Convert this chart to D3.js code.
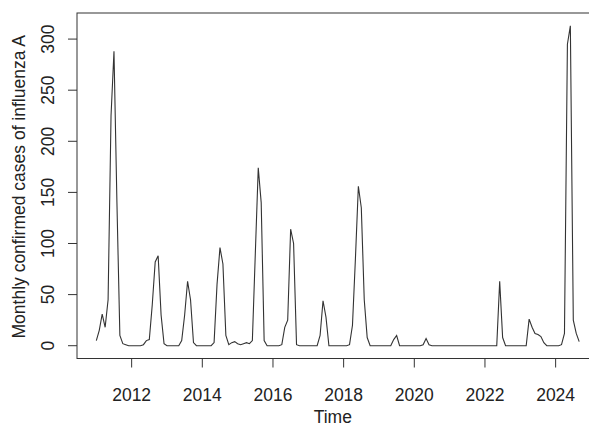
<!DOCTYPE html>
<html>
<head>
<meta charset="utf-8">
<script src="https://cdn.jsdelivr.net/npm/d3@7"></script>
<style>
  body { margin: 0; background: #fff; }
  svg { display: block; }
  text { font-family: "Liberation Sans", Arial, sans-serif; fill: #222; }
  .frame, .tick-line { stroke: #333; stroke-width: 1; fill: none; }
  .series { stroke: #333; stroke-width: 1.1; fill: none; }
</style>
</head>
<body>
<svg></svg>
<script>
//begin: data
var startYear = 2011;   // monthly series, first point = Jan 2011
var monthsPerYear = 12;
var cases = [
  // 2011
  5, 15, 31, 18, 45, 225, 288, 140, 10, 2, 1, 0,
  // 2012
  0, 0, 0, 0, 1, 5, 6, 40, 82, 88, 30, 2,
  // 2013
  0, 0, 0, 0, 0, 5, 30, 63, 45, 3, 0, 0,
  // 2014
  0, 0, 0, 0, 3, 60, 96, 80, 10, 1, 3, 4,
  // 2015
  2, 1, 2, 3, 2, 5, 90, 174, 140, 5, 0, 0,
  // 2016
  0, 0, 0, 1, 18, 25, 114, 100, 1, 0, 0, 0,
  // 2017
  0, 0, 0, 0, 10, 44, 28, 0, 0, 0, 0, 0,
  // 2018
  0, 0, 1, 20, 85, 156, 135, 45, 8, 0, 0, 0,
  // 2019
  0, 0, 0, 0, 0, 6, 10, 0, 0, 0, 0, 0,
  // 2020
  0, 0, 0, 1, 7, 1, 0, 0, 0, 0, 0, 0,
  // 2021
  0, 0, 0, 0, 0, 0, 0, 0, 0, 0, 0, 0,
  // 2022
  0, 0, 0, 0, 0, 63, 8, 0, 0, 0, 0, 0,
  // 2023
  0, 0, 0, 26, 18, 12, 11, 9, 3, 0, 0, 0,
  // 2024 (Jan - Sep)
  0, 0, 1, 12, 295, 313, 25, 12, 4
];
var xTicks = [2012, 2014, 2016, 2018, 2020, 2022, 2024];
var yTicks = [0, 50, 100, 150, 200, 250, 300];
var xLabel = "Time";
var yLabel = "Monthly confirmed cases of influenza A";
//end: data

//begin: layout conf.
var svgWidth = 589,
    svgHeight = 426,
    plot = {left: 77, right: 598.5, top: 13, bottom: 358.5},
    tickLength = 9,
    fontSize = 17.5;
//end: layout conf.

var points = cases.map(function(v, i) {
  return {t: startYear + i / monthsPerYear, v: v};
});

// R style axis range: data extent padded by 4% each side
function pad(ext) {
  var d = (ext[1] - ext[0]) * 0.04;
  return [ext[0] - d, ext[1] + d];
}

var x = d3.scaleLinear()
    .domain(pad(d3.extent(points, function(d) { return d.t; })))
    .range([plot.left, plot.right]);

var y = d3.scaleLinear()
    .domain(pad(d3.extent(points, function(d) { return d.v; })))
    .range([plot.bottom, plot.top]);

var svg = d3.select("svg")
    .attr("width", svgWidth)
    .attr("height", svgHeight);

// series line
var line = d3.line()
    .x(function(d) { return x(d.t); })
    .y(function(d) { return y(d.v); });

svg.append("path")
    .datum(points)
    .classed("series", true)
    .attr("d", line);

// plot frame
svg.append("rect")
    .classed("frame", true)
    .attr("x", plot.left)
    .attr("y", plot.top)
    .attr("width", plot.right - plot.left)
    .attr("height", plot.bottom - plot.top);

// x axis
var xAxis = svg.append("g").classed("x-axis", true);
xAxis.selectAll(".tick-line")
    .data(xTicks)
    .enter().append("line")
    .classed("tick-line", true)
    .attr("x1", function(d) { return x(d); })
    .attr("x2", function(d) { return x(d); })
    .attr("y1", plot.bottom)
    .attr("y2", plot.bottom + tickLength);
xAxis.selectAll(".tick-label")
    .data(xTicks)
    .enter().append("text")
    .classed("tick-label", true)
    .attr("x", function(d) { return x(d); })
    .attr("y", 401)
    .attr("text-anchor", "middle")
    .style("font-size", fontSize + "px")
    .text(function(d) { return d; });

// y axis
var yAxis = svg.append("g").classed("y-axis", true);
yAxis.selectAll(".tick-line")
    .data(yTicks)
    .enter().append("line")
    .classed("tick-line", true)
    .attr("x1", plot.left - tickLength)
    .attr("x2", plot.left)
    .attr("y1", function(d) { return y(d); })
    .attr("y2", function(d) { return y(d); });
yAxis.selectAll(".tick-label")
    .data(yTicks)
    .enter().append("text")
    .classed("tick-label", true)
    .attr("transform", function(d) { return "translate(" + [54, y(d)] + ") rotate(-90)"; })
    .attr("text-anchor", "middle")
    .style("font-size", fontSize + "px")
    .text(function(d) { return d; });

// axis titles
svg.append("text")
    .attr("x", (plot.left + plot.right) / 2 - 5)
    .attr("y", 423)
    .attr("text-anchor", "middle")
    .style("font-size", fontSize + "px")
    .text(xLabel);

svg.append("text")
    .attr("transform", "translate(" + [25, (plot.top + plot.bottom) / 2 + 1] + ") rotate(-90)")
    .attr("text-anchor", "middle")
    .style("font-size", fontSize + "px")
    .text(yLabel);
</script>
</body>
</html>
